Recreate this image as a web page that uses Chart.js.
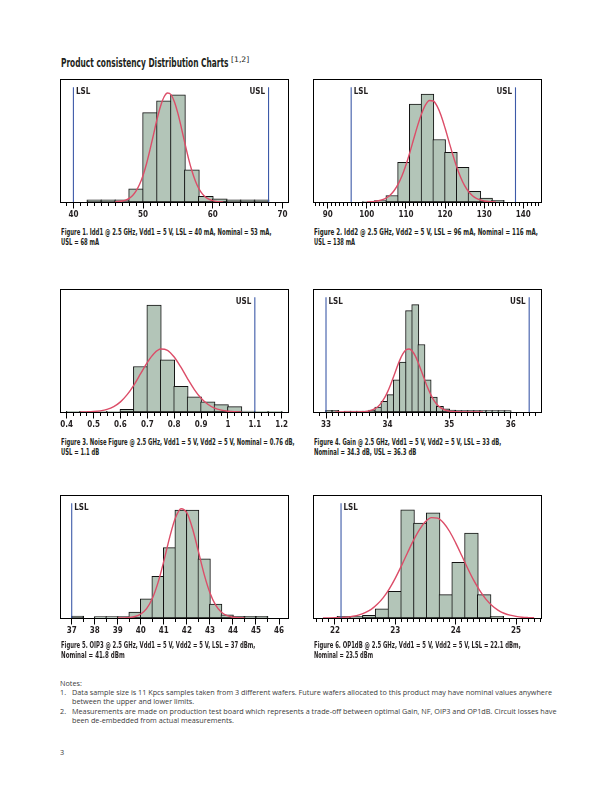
<!DOCTYPE html>
<html><head><meta charset="utf-8">
<script src="https://cdn.jsdelivr.net/npm/chart.js@4.4.1/dist/chart.umd.min.js"></script>
<style>
html,body{margin:0;padding:0;background:#fff;}
body{width:612px;height:792px;position:relative;overflow:hidden;}
canvas{position:absolute;}
.t{position:absolute;white-space:nowrap;transform-origin:0 50%;line-height:1;}
.b{font-family:"Liberation Sans Narrow","DejaVu Sans Condensed","Arial Narrow",sans-serif;font-weight:bold;color:#231f20;}
.r{font-family:"Liberation Sans Narrow","DejaVu Sans Condensed","Arial Narrow",sans-serif;font-weight:normal;color:#231f20;}
.n{font-family:"Open Sans","Liberation Sans",sans-serif;color:#3a3a3a;}
</style></head><body>
<canvas id="c1" width="250" height="157" style="left:50px;top:70px"></canvas>
<canvas id="c2" width="250" height="157" style="left:303px;top:70px"></canvas>
<canvas id="c3" width="250" height="157" style="left:50px;top:280px"></canvas>
<canvas id="c4" width="250" height="157" style="left:303px;top:280px"></canvas>
<canvas id="c5" width="250" height="157" style="left:50px;top:486px"></canvas>
<canvas id="c6" width="250" height="157" style="left:303px;top:486px"></canvas>
<script>
// ---------- Figure 1: Idd1 (mA) ----------
const idd1Bins   = [43,45,47,49,51,53,55,57,59,61,63,65,67];
const idd1Counts = [1.8,1.8,1.8,10.7,73.2,83.0,87.9,26.3,4.7,2.5,1.8,1.8,1.8];
const idd1CurveX = [46,46.5,47,47.5,48,48.5,49,49.5,50,50.5,51,51.5,52,52.5,53,53.5,54,54.5,55,55.5,56,56.5,57,57.5,58,58.5,59,59.5,60,60.5,61,61.5];
const idd1CurveY = [0.17,0.38,0.8,1.6,3.0,5.4,9.1,14.5,22.0,31.6,43.1,55.5,67.8,78.5,86.1,89.4,88.0,82.0,72.4,60.6,48.0,36.0,25.6,17.3,11.0,6.7,3.8,2.1,1.1,0.5,0.24,0.1];
const idd1Ticks  = [40,50,60,70];
const idd1TickLabels = ['40','50','60','70'];

// ---------- Figure 2: Idd2 (mA) ----------
const idd2Bins   = [100.5,103.5,106.5,109.5,112.5,115.5,118.5,121.5,124.5,127.5,130.5,133.5];
const idd2Counts = [0.3,1.2,5.3,32.6,80.3,88.5,51.2,40.8,28.5,8.8,3.3,1.4];
const idd2CurveX = [100,101,102,103,104,105,106,107,108,109,110,111,112,113,114,115,116,117,118,119,120,121,122,123,124,125,126,127,128,129,130,131,132,133];
const idd2CurveY = [0.1,0.24,0.5,1.0,1.9,3.4,5.8,9.4,14.6,21.6,30.4,40.6,51.8,62.8,72.4,79.6,83.2,82.8,78.4,70.7,60.6,49.5,38.5,28.5,20.1,13.4,8.6,5.2,3.0,1.7,0.87,0.43,0.2,0.09];
const idd2Ticks  = [90,100,110,120,130,140];
const idd2TickLabels = ['90','100','110','120','130','140'];

// ---------- Figure 3: Noise Figure (dB) ----------
const nfBins   = [0.425,0.475,0.525,0.575,0.625,0.675,0.725,0.775,0.825,0.875,0.925,0.975,1.025,1.075,1.125,1.175];
const nfCounts = [0.6,0.6,0.6,0.6,2.2,37.3,87.7,42.8,21.0,12.5,8.4,6.0,4.4,0.8,0.6,0.6];
const nfCurveX = [0.45,0.475,0.5,0.525,0.55,0.575,0.6,0.625,0.65,0.675,0.7,0.725,0.75,0.775,0.8,0.825,0.85,0.875,0.9,0.925,0.95,0.975,1.0,1.025,1.05];
const nfCurveY = [0.05,0.14,0.38,0.95,2.1,4.4,8.3,14.2,22.1,31.4,40.7,48.0,51.6,50.6,45.1,36.7,27.2,18.4,11.3,6.4,3.2,1.5,0.64,0.25,0.09];
const nfTicks  = [0.4,0.5,0.6,0.7,0.8,0.9,1.0,1.1,1.2];
const nfTickLabels = ['0.4','0.5','0.6','0.7','0.8','0.9','1','1.1','1.2'];

// ---------- Figure 4: Gain (dB) ----------
const gainBins   = [33.05,33.15,33.25,33.35,33.45,33.55,33.65,33.75,33.85,33.95,34.05,34.15,34.25,34.35,34.45,34.55,34.65,34.75,34.85,34.95,35.05,35.15,35.25,35.35,35.45,35.55,35.65,35.75,35.85,35.95];
const gainCounts = [1.4,1.4,0,0.8,0.8,0.8,0.8,1.6,4.1,8.7,14.2,26.4,40.9,83.1,88.0,55.3,26.4,12.3,4.6,2.5,1.6,1.1,1.1,1.1,1.1,1.1,1.1,1.1,1.1,1.1];
const gainCurveX = [33.15,33.4,33.5,33.6,33.65,33.7,33.75,33.8,33.85,33.9,33.95,34.0,34.05,34.1,34.15,34.2,34.25,34.3,34.35,34.4,34.45,34.5,34.55,34.6,34.65,34.7,34.75,34.8,34.85,34.9,34.95,35.0,35.05,35.1,35.3,35.55];
const gainCurveY = [0,0.02,0.08,0.23,0.47,0.91,1.7,2.9,4.8,7.7,11.5,16.5,22.6,29.3,36.3,42.7,47.8,51.0,51.7,50.0,46.0,40.2,33.5,26.6,20.0,14.4,9.8,6.4,4.0,2.3,1.3,0.7,0.36,0.17,0.02,0];
const gainTicks  = [33,34,35,36];
const gainTickLabels = ['33','34','35','36'];

// ---------- Figure 5: OIP3 (dBm) ----------
const oip3Bins   = [37.25,37.75,38.25,38.75,39.25,39.75,40.25,40.75,41.25,41.75,42.25,42.75,43.25,43.75,44.25,44.75,45.25];
const oip3Counts = [1.6,0,1.1,1.1,1.1,4.9,15.7,34.1,57.7,88.5,88.5,48.6,11.5,2.5,1.4,1.4,1.4];
const oip3CurveX = [39.0,39.25,39.5,39.75,40.0,40.25,40.5,40.75,41.0,41.25,41.5,41.75,42.0,42.25,42.5,42.75,43.0,43.25,43.5,43.75,44.0,44.25,44.5];
const oip3CurveY = [0.03,0.12,0.41,1.2,3.3,7.7,16.0,29.2,46.7,65.9,81.9,89.6,86.2,73.0,54.5,35.8,20.7,10.5,4.7,1.9,0.64,0.2,0.05];
const oip3Ticks  = [37,38,39,40,41,42,43,44,45,46];
const oip3TickLabels = ['37','38','39','40','41','42','43','44','45','46'];

// ---------- Figure 6: OP1dB (dBm) ----------
const op1Bins   = [22.146,22.357,22.569,22.780,22.992,23.203,23.415,23.626,23.838,24.049,24.261,24.472,24.684];
const op1Counts = [1.4,1.4,2.2,7.5,21.8,88.7,77.9,86.2,19.1,45.6,69.6,19.1,1.4];
const op1CurveX = [21.8,21.9,22.0,22.1,22.2,22.3,22.4,22.5,22.6,22.7,22.8,22.9,23.0,23.1,23.2,23.3,23.4,23.5,23.6,23.7,23.8,23.9,24.0,24.1,24.2,24.3,24.4,24.5,24.6,24.7,24.8,24.9,25.0,25.1,25.2,25.3];
const op1CurveY = [0.04,0.09,0.19,0.39,0.76,1.4,2.5,4.4,7.1,11.2,16.7,23.9,32.7,42.7,53.3,63.6,72.5,79.0,82.3,81.9,77.9,70.9,61.6,51.2,40.6,30.8,22.4,15.5,10.3,6.5,3.9,2.3,1.3,0.66,0.34,0.16];
const op1Ticks  = [22,23,24,25];
const op1TickLabels = ['22','23','24','25'];

// spec limits [label, value]
const idd1Limits = [['LSL',40],['USL',68]];
const idd2Limits = [['LSL',96],['USL',138]];
const nfLimits   = [['USL',1.1]];
const gainLimits = [['LSL',33],['USL',36.3]];
const oip3Limits = [['LSL',37]];
const op1Limits  = [['LSL',22.1]];
const LIMIT_TOP = 94;

// ---------- styles ----------
const NARROW = "'Liberation Sans Narrow','DejaVu Sans Condensed','Arial Narrow',sans-serif";
const FILL = '#b3c5b8';
const RED = '#dc4d68';
const BLUE = '#3d5aa8';
const PLOT_W = 227;

const framePlugin = {
  id: 'frame',
  afterDatasetsDraw(chart) {
    const {ctx, scales: {x, y}} = chart;
    ctx.save();
    chart.data.datasets.forEach(ds => {
      if (!ds.limitLabel) return;
      const px = x.getPixelForValue(ds.data[0].x);
      const top = y.getPixelForValue(ds.data[1].y);
      ctx.font = 'bold 8px ' + NARROW;
      ctx.fillStyle = '#231f20';
      ctx.textBaseline = 'middle';
      if (ds.limitLabel === 'LSL') { ctx.textAlign = 'left'; ctx.fillText('LSL', px + 2.5, top + 4.8); }
      else { ctx.textAlign = 'right'; ctx.fillText('USL', px - 3.5, top + 4.8); }
    });
    ctx.restore();
  },
  afterDraw(chart) {
    const {ctx, chartArea: a, scales: {x}} = chart;
    ctx.save();
    ctx.strokeStyle = '#000';
    ctx.lineWidth = 1;
    x.ticks.forEach(t => {
      if (!t.major) return;
      const px = Math.round(x.getPixelForValue(t.value) - 0.5) + 0.5;
      ctx.beginPath(); ctx.moveTo(px, a.bottom); ctx.lineTo(px, a.bottom + 6.5); ctx.stroke();
    });
    ctx.strokeRect(a.left - 0.5, a.top - 0.5, a.right - a.left + 1, a.bottom - a.top + 1);
    ctx.restore();
  }
};

function tickList(min, max, step, majors, labels) {
  const out = [];
  const n0 = Math.ceil(min / step - 1e-9), n1 = Math.floor(max / step + 1e-9);
  for (let k = n0; k <= n1; k++) {
    const v = +(k * step).toFixed(4);
    const mi = majors.findIndex(m => Math.abs(m - v) < step / 10);
    out.push({value: v, major: mi >= 0, lbl: mi >= 0 ? labels[mi] : ''});
  }
  return out;
}

function build(c) {
  const ticks = tickList(c.min, c.max, c.step, c.majors, c.labels);
  const binPx = (c.bins[1] - c.bins[0]) * PLOT_W / (c.max - c.min);
  const datasets = [
    {type: 'bar', data: c.bins.map((b, i) => ({x: b, y: c.counts[i]})), backgroundColor: FILL,
     borderColor: '#111', borderWidth: 1, borderSkipped: false,
     barThickness: binPx + 1, order: 3},
    {type: 'line', data: c.cx.map((v, i) => ({x: v, y: c.cy[i]})), borderColor: RED, borderWidth: 1.4,
     pointRadius: 0, tension: 0.4, cubicInterpolationMode: 'monotone', fill: false, order: 2}
  ];
  c.limits.forEach(([lab, v]) => datasets.push({type: 'line', data: [{x: v, y: 0}, {x: v, y: LIMIT_TOP}],
    borderColor: BLUE, borderWidth: 1.1, pointRadius: 0, fill: false, order: 1, limitLabel: lab}));
  new Chart(document.getElementById(c.id), {
    type: 'bar',
    data: {datasets},
    options: {
      responsive: false, animation: false, devicePixelRatio: 1, events: [],
      layout: {padding: {left: 11, right: 12, top: 10, bottom: 0}},
      plugins: {legend: {display: false}, tooltip: {enabled: false}},
      scales: {
        x: {
          type: 'linear', min: c.min, max: c.max, offset: false, bounds: 'data',
          afterBuildTicks: s => { s.ticks = ticks.map(t => ({value: t.value, major: t.major})); },
          afterFit: s => { s.height = 25; },
          grid: {display: true, drawOnChartArea: false, drawTicks: true, tickLength: 4, color: '#000', tickColor: '#000', offset: false},
          border: {display: false},
          ticks: {
            autoSkip: false, maxRotation: 0, minRotation: 0, padding: 4.5, color: '#231f20',
            font: {family: NARROW, size: 8, weight: 'bold'},
            callback: (v, i) => ticks[i] ? ticks[i].lbl : ''
          }
        },
        y: {display: false, min: 0, max: 100}
      }
    },
    plugins: [framePlugin]
  });
}

[
  {id: 'c1', bins: idd1Bins, counts: idd1Counts, cx: idd1CurveX, cy: idd1CurveY, min: 38.22, max: 70.79, step: 1, majors: idd1Ticks, labels: idd1TickLabels, limits: idd1Limits},
  {id: 'c2', bins: idd2Bins, counts: idd2Counts, cx: idd2CurveX, cy: idd2CurveY, min: 86.5, max: 144.52, step: 1, majors: idd2Ticks, labels: idd2TickLabels, limits: idd2Limits},
  {id: 'c3', bins: nfBins, counts: nfCounts, cx: nfCurveX, cy: nfCurveY, min: 0.3788, max: 1.2234, step: 0.025, majors: nfTicks, labels: nfTickLabels, limits: nfLimits},
  {id: 'c4', bins: gainBins, counts: gainCounts, cx: gainCurveX, cy: gainCurveY, min: 32.805, max: 36.492, step: 0.1, majors: gainTicks, labels: gainTickLabels, limits: gainLimits},
  {id: 'c5', bins: oip3Bins, counts: oip3Counts, cx: oip3CurveX, cy: oip3CurveY, min: 36.535, max: 46.39, step: 0.5, majors: oip3Ticks, labels: oip3TickLabels, limits: oip3Limits},
  {id: 'c6', bins: op1Bins, counts: op1Counts, cx: op1CurveX, cy: op1CurveY, min: 21.652, max: 25.414, step: 0.1, majors: op1Ticks, labels: op1TickLabels, limits: op1Limits}
].forEach(build);

// ---------- page text ----------
function place(cls, size, x, cy, t) {
  const d = document.createElement('div');
  d.className = 't ' + cls;
  d.textContent = t;
  d.style.fontSize = size + 'px';
  d.style.left = x + 'px';
  d.style.top = (cy - size / 2) + 'px';
  document.body.appendChild(d);
  return d;
}
function fit(d, w) {
  const aw = d.getBoundingClientRect().width;
  const k = aw > 0 ? w / aw : 1;
  d.style.transform = 'scaleX(' + k.toFixed(4) + ')';
  return k;
}
const headTexts = [
  ['b', 11.5, 60.5, 63.8, 167.5, 'Product consistency Distribution Charts'],
  ['r', 7.5, 231.3, 60.2, 18.3, '[1,2]'],
  ['b', 8, 60.5, 232.7, 210.5, 'Figure 1. Idd1 @ 2.5 GHz, Vdd1 = 5 V, LSL = 40 mA, Nominal = 53 mA,'],
  ['b', 8, 60.5, 242.7, 38, 'USL = 68 mA'],
  ['b', 8, 314, 232.7, 224, 'Figure 2. Idd2 @ 2.5 GHz, Vdd2 = 5 V, LSL = 96 mA, Nominal = 116 mA,'],
  ['b', 8, 314, 242.7, 41, 'USL = 138 mA'],
  ['b', 8, 60.5, 442.5, 233.6, 'Figure 3. Noise Figure @ 2.5 GHz, Vdd1 = 5 V, Vdd2 = 5 V, Nominal = 0.76 dB,'],
  ['b', 8, 60.5, 452.5, 38.3, 'USL = 1.1 dB'],
  ['b', 8, 314, 442.5, 187.3, 'Figure 4. Gain @ 2.5 GHz, Vdd1 = 5 V, Vdd2 = 5 V, LSL = 33 dB,'],
  ['b', 8, 314, 452.5, 102.3, 'Nominal = 34.3 dB, USL = 36.3 dB'],
  ['b', 8, 60.5, 646, 194.3, 'Figure 5. OIP3 @ 2.5 GHz, Vdd1 = 5 V, Vdd2 = 5 V, LSL = 37 dBm,'],
  ['b', 8, 60.5, 656, 63.7, 'Nominal = 41.8 dBm'],
  ['b', 8, 314, 646, 206.7, 'Figure 6. OP1dB @ 2.5 GHz, Vdd1 = 5 V, Vdd2 = 5 V, LSL = 22.1 dBm,'],
  ['b', 8, 314, 656, 59, 'Nominal = 23.5 dBm']
];
headTexts.forEach(([cls, size, x, cy, w, t]) => fit(place(cls, size, x, cy, t), w));

// notes: one common horizontal scale taken from the first full line
const noteTexts = [
  [60, 683, 'Notes:'],
  [60, 692.5, '1.'],
  [71.7, 692.5, 'Data sample size is 11 Kpcs samples taken from 3 different wafers. Future wafers allocated to this product may have nominal values anywhere'],
  [71.7, 701.5, 'between the upper and lower limits.'],
  [60, 711, '2.'],
  [71.7, 711, 'Measurements are made on production test board which represents a trade-off between optimal Gain, NF, OIP3 and OP1dB. Circuit losses have'],
  [71.7, 720, 'been de-embedded from actual measurements.'],
  [60, 752.5, '3']
];
const noteEls = noteTexts.map(([x, cy, t]) => place('n', 7, x, cy, t));
const kNotes = fit(noteEls[2], 480);
noteEls.forEach(d => { d.style.transform = 'scaleX(' + kNotes.toFixed(4) + ')'; });
</script>
</body></html>
